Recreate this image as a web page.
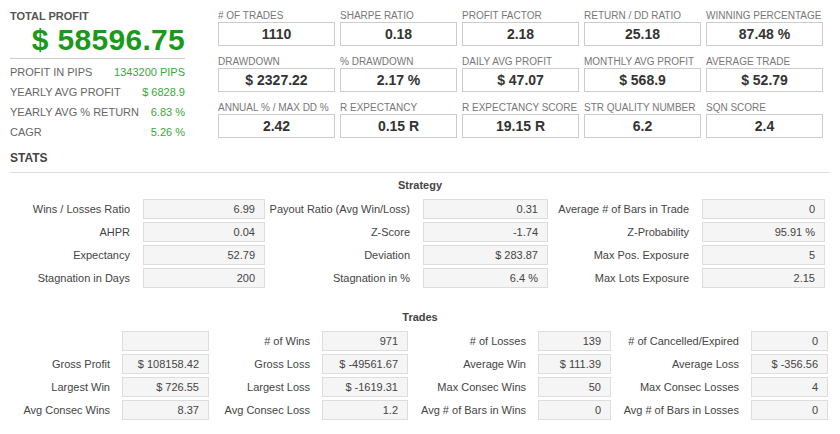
<!DOCTYPE html>
<html>
<head>
<meta charset="utf-8">
<script src="https://cdn.jsdelivr.net/npm/chart.js@4/dist/chart.umd.min.js"></script>
<style>
  html, body { margin: 0; padding: 0; background: #fff; }
  body { width: 840px; height: 434px; position: relative; overflow: hidden;
         font-family: "Liberation Sans", Arial, sans-serif; color: #444; }
  .abs { position: absolute; }
  .tp-title { font-size: 11px; font-weight: bold; color: #555; line-height: 11px; }
  .tp-value { text-align: right; font-size: 30px; font-weight: bold; color: #1a9a1a;
              line-height: 26px; white-space: nowrap; letter-spacing: 0.3px; }
  .tp-rule { border-top: 1px solid #ccc; }
  .side-row { height: 20px; font-size: 11px; line-height: 20px; }
  .side-row span.l { color: #666; }
  .side-row span.v { float: right; color: #3aa83a; }
  .kpi-label { font-size: 10px; color: #777; white-space: nowrap; }
  .kpi-box { height: 24px; border: 1px solid #ccc; box-sizing: border-box;
             text-align: center; font-size: 14px; font-weight: bold; color: #333; line-height: 23px; }
  .stats { font-size: 12px; font-weight: bold; color: #444; }
  .stats-rule { border-top: 1px solid #ddd; }
  .hdr { text-align: center; font-size: 11px; font-weight: bold; color: #444; }
  .lab { font-size: 11px; color: #444; text-align: right; white-space: nowrap; line-height: 20px; }
  .cell { height: 20px; border: 1px solid #ddd; background: #f5f5f5; box-sizing: border-box;
          font-size: 11px; color: #444; text-align: right; padding-right: 9px; line-height: 18px; }
</style>
</head>
<body>
<div id="root"></div>
<script>
"use strict";

// --- Headline values ---
const totalProfitLabel = 'TOTAL PROFIT';
const totalProfitValue = '$ 58596.75';
const sideLabels = ['PROFIT IN PIPS', 'YEARLY AVG PROFIT', 'YEARLY AVG % RETURN', 'CAGR'];
const sideValues = ['1343200 PIPS', '$ 6828.9', '6.83 %', '5.26 %'];

// --- KPI boxes (3 rows x 5 columns) ---
const kpiLabels = [
    ['# OF TRADES', 'SHARPE RATIO', 'PROFIT FACTOR', 'RETURN / DD RATIO', 'WINNING PERCENTAGE'],
    ['DRAWDOWN', '% DRAWDOWN', 'DAILY AVG PROFIT', 'MONTHLY AVG PROFIT', 'AVERAGE TRADE'],
    ['ANNUAL % / MAX DD %', 'R EXPECTANCY', 'R EXPECTANCY SCORE', 'STR QUALITY NUMBER', 'SQN SCORE']
];
const kpiValues = [
    ['1110', '0.18', '2.18', '25.18', '87.48 %'],
    ['$ 2327.22', '2.17 %', '$ 47.07', '$ 568.9', '$ 52.79'],
    ['2.42', '0.15 R', '19.15 R', '6.2', '2.4']
];

// --- Strategy table (rows x 3 label/value pairs) ---
const strategyLabels = [
    ['Wins / Losses Ratio', 'Payout Ratio (Avg Win/Loss)', 'Average # of Bars in Trade'],
    ['AHPR', 'Z-Score', 'Z-Probability'],
    ['Expectancy', 'Deviation', 'Max Pos. Exposure'],
    ['Stagnation in Days', 'Stagnation in %', 'Max Lots Exposure']
];
const strategyValues = [
    ['6.99', '0.31', '0'],
    ['0.04', '-1.74', '95.91 %'],
    ['52.79', '$ 283.87', '5'],
    ['200', '6.4 %', '2.15']
];

// --- Trades table (rows x 4 label/value pairs) ---
const tradesLabels = [
    ['', '# of Wins', '# of Losses', '# of Cancelled/Expired'],
    ['Gross Profit', 'Gross Loss', 'Average Win', 'Average Loss'],
    ['Largest Win', 'Largest Loss', 'Max Consec Wins', 'Max Consec Losses'],
    ['Avg Consec Wins', 'Avg Consec Loss', 'Avg # of Bars in Wins', 'Avg # of Bars in Losses']
];
const tradesValues = [
    ['', '971', '139', '0'],
    ['$ 108158.42', '$ -49561.67', '$ 111.39', '$ -356.56'],
    ['$ 726.55', '$ -1619.31', '50', '4'],
    ['8.37', '1.2', '0', '0']
];

// --- Layout helpers ---
const root = document.getElementById('root');
function el(cls, left, top, width, text) {
    const d = document.createElement('div');
    d.className = 'abs ' + cls;
    d.style.left = left + 'px';
    d.style.top = top + 'px';
    if (width !== null) d.style.width = width + 'px';
    d.textContent = text;
    root.appendChild(d);
    return d;
}

// Headline block
el('tp-title', 10, 11, null, totalProfitLabel);
el('tp-value', 10, 27, 175, totalProfitValue);
el('tp-rule', 10, 58, 175, '');
sideLabels.forEach((lab, i) => {
    const row = el('side-row', 10, 62 + i * 20, 175, '');
    row.innerHTML = `<span class="l">${lab}</span><span class="v">${sideValues[i]}</span>`;
});

// KPI grid
const kpiCols = [218, 340, 462, 584, 706];
const kpiRowTops = [8, 54, 100];
kpiLabels.forEach((row, r) => {
    row.forEach((lab, c) => {
        el('kpi-label', kpiCols[c], kpiRowTops[r] + 2, null, lab);
        el('kpi-box', kpiCols[c], kpiRowTops[r] + 14, 117, kpiValues[r][c]);
    });
});

el('stats', 10, 151, null, 'STATS');
el('stats-rule', 10, 172, 820, '');

// Strategy section
el('hdr', 0, 179, 840, 'Strategy');
const stratLabelRight = [130, 410, 689];
const stratBoxLeft = [143, 423, 702];
const stratBoxWidth = [122, 125, 123];
strategyLabels.forEach((row, r) => {
    const top = 199 + r * 23;
    row.forEach((lab, c) => {
        el('lab', stratLabelRight[c] - 200, top, 200, lab);
        el('cell', stratBoxLeft[c], top, stratBoxWidth[c], strategyValues[r][c]);
    });
});

// Trades section
el('hdr', 0, 311, 840, 'Trades');
const tradeLabelRight = [110, 310, 526, 739];
const tradeBoxLeft = [122, 322, 538, 751];
const tradeBoxWidth = [87, 86, 73, 77];
tradesLabels.forEach((row, r) => {
    const top = 331 + r * 23;
    row.forEach((lab, c) => {
        el('lab', tradeLabelRight[c] - 200, top, 200, lab);
        el('cell', tradeBoxLeft[c], top, tradeBoxWidth[c], tradesValues[r][c]);
    });
});
</script>
</body>
</html>
